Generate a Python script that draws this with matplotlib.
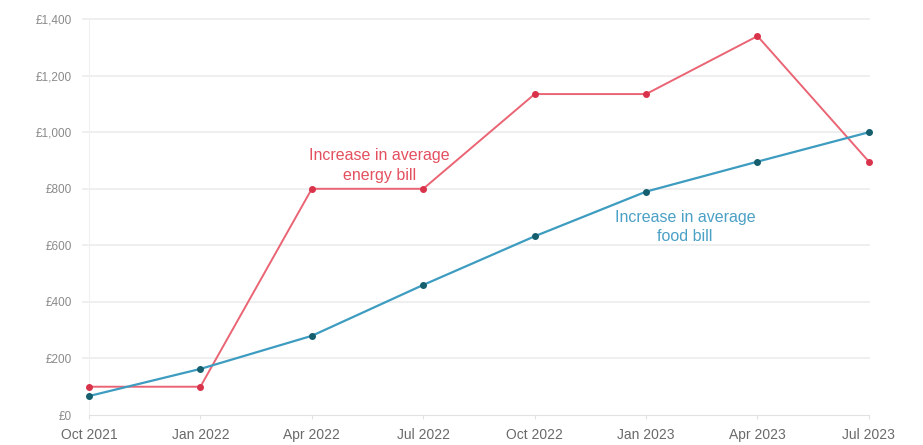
import matplotlib.pyplot as plt

plt.rcParams['font.family'] = ['Liberation Sans Narrow', 'Liberation Sans', 'DejaVu Sans']

quarters = ["Oct 2021", "Jan 2022", "Apr 2022", "Jul 2022",
            "Oct 2022", "Jan 2023", "Apr 2023", "Jul 2023"]
energy_bill = [100, 100, 800, 800, 1135, 1135, 1340, 896]
food_bill = [67, 163, 280, 460, 632, 790, 896, 1000]
y_ticks = [0, 200, 400, 600, 800, 1000, 1200, 1400]
y_tick_labels = ["£0", "£200", "£400", "£600", "£800", "£1,000", "£1,200", "£1,400"]

energy_line = "#ea6474"
energy_dot = "#d9334b"
food_line = "#3d9cc0"
food_dot = "#155e6e"
label_grey = "#8a8a8a"
grid_grey = "#ececec"

fig = plt.figure(figsize=(9.23, 4.45), dpi=100)
ax = fig.add_axes([0.0964, 0.0674, 0.845, 0.8896])

x = list(range(len(quarters)))
ax.plot(x, energy_bill, color=energy_line, lw=1.4, zorder=3, clip_on=False)
ax.plot(x, energy_bill, 'o', color=energy_dot, ms=4, zorder=4, clip_on=False)
ax.plot(x, food_bill, color=food_line, lw=1.6, zorder=3, clip_on=False)
ax.plot(x, food_bill, 'o', color=food_dot, ms=4, zorder=4, clip_on=False)

ax.set_xlim(0, len(quarters) - 1)
ax.set_ylim(0, 1400)
ax.set_xticks(x)
ax.set_xticklabels(quarters, fontsize=10, color="#6a6a6a")
ax.set_yticks(y_ticks)
ax.set_yticklabels(y_tick_labels, fontsize=8.5, color=label_grey)

for v in y_ticks[1:]:
    ax.axhline(v, color=grid_grey, lw=1.2, zorder=1, xmin=-0.008, clip_on=False)

for s in ["top", "right"]:
    ax.spines[s].set_visible(False)
ax.spines["left"].set_color("#f0f0f0")
ax.spines["bottom"].set_color("#e2e2e2")
ax.spines["bottom"].set_linestyle((0, (2, 1)))
ax.tick_params(axis="y", length=0, pad=12)
ax.tick_params(axis="x", length=3, color="#e2e2e2", pad=6)

ax.text(2.61, 822, "Increase in average\nenergy bill", ha="center", va="bottom",
        fontsize=11.5, color="#e4505f", linespacing=1.4)
ax.text(5.35, 603, "Increase in average\nfood bill", ha="center", va="bottom",
        fontsize=11.5, color="#4ba0c6", linespacing=1.4)

fig.savefig("out.png", dpi=100, facecolor="white")
